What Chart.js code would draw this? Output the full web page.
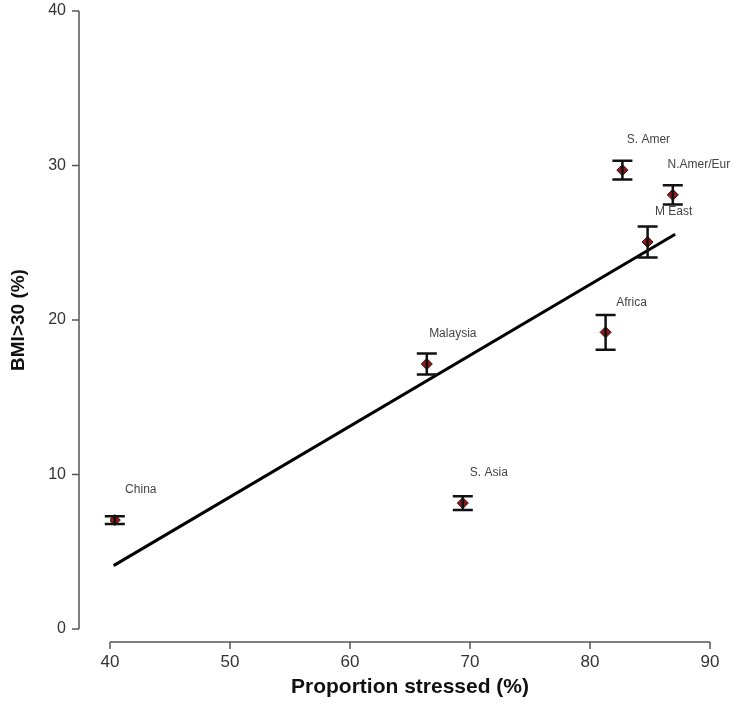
<!DOCTYPE html>
<html>
<head>
<meta charset="utf-8">
<script src="https://cdn.jsdelivr.net/npm/chart.js@4.4.1/dist/chart.umd.min.js"></script>
<style>
  html, body { margin: 0; padding: 0; background: #fff; }
  #wrap { width: 737px; height: 722px; }
</style>
</head>
<body>
<div id="wrap"><canvas id="grafico"></canvas></div>
<script>
// regions, x = proportion stressed (%), y = BMI>30 (%), err = half-length of error bar
const regioes = ['China', 'S. Asia', 'Malaysia', 'Africa', 'S. Amer', 'N.Amer/Eur', 'M East'];
const estressados = [40.4, 69.4, 66.4, 81.3, 82.7, 86.9, 84.8];
const obesidade = [7.05, 8.15, 17.15, 19.2, 29.7, 28.1, 25.05];
const erro = [0.25, 0.45, 0.68, 1.12, 0.6, 0.62, 1.0];

// fitted regression line end points
const retaX = [40.3, 87.1];
const retaY = [4.1, 25.55];

const xTicks = [40, 50, 60, 70, 80, 90];
const yTicks = [0, 10, 20, 30, 40];

// R-style detached axes, error bars and point labels
const extras = {
  id: 'extras',
  afterDatasetsDraw(chart) {
    const ctx = chart.ctx;
    const xs = chart.scales.x, ys = chart.scales.y;
    const area = chart.chartArea;
    ctx.save();

    // error bars
    ctx.strokeStyle = '#111';
    ctx.lineWidth = 2.5;
    estressados.forEach((v, i) => {
      const px = xs.getPixelForValue(v);
      const top = ys.getPixelForValue(obesidade[i] + erro[i]);
      const bot = ys.getPixelForValue(obesidade[i] - erro[i]);
      ctx.beginPath();
      ctx.moveTo(px, top); ctx.lineTo(px, bot);
      ctx.moveTo(px - 10, top); ctx.lineTo(px + 10, top);
      ctx.moveTo(px - 10, bot); ctx.lineTo(px + 10, bot);
      ctx.stroke();
    });

    // point labels
    ctx.fillStyle = '#444';
    ctx.font = '12px "Liberation Sans", Arial, sans-serif';
    ctx.textAlign = 'center';
    ctx.textBaseline = 'middle';
    regioes.forEach((r, i) => {
      const px = xs.getPixelForValue(estressados[i]);
      const py = ys.getPixelForValue(obesidade[i]);
      ctx.fillText(r, px + 26, py - 30);
    });

    // axes
    ctx.strokeStyle = '#555';
    ctx.lineWidth = 1.5;
    const axX = area.left - 31;
    ctx.beginPath();
    ctx.moveTo(axX, ys.getPixelForValue(yTicks[0]));
    ctx.lineTo(axX, ys.getPixelForValue(yTicks[yTicks.length - 1]));
    yTicks.forEach(t => {
      const py = ys.getPixelForValue(t);
      ctx.moveTo(axX, py); ctx.lineTo(axX - 7, py);
    });
    const axY = area.bottom + 13;
    ctx.moveTo(xs.getPixelForValue(xTicks[0]), axY);
    ctx.lineTo(xs.getPixelForValue(xTicks[xTicks.length - 1]), axY);
    xTicks.forEach(t => {
      const px = xs.getPixelForValue(t);
      ctx.moveTo(px, axY); ctx.lineTo(px, axY + 7);
    });
    ctx.stroke();
    ctx.restore();
  }
};

new Chart(document.getElementById('grafico'), {
  data: {
    datasets: [
      {
        type: 'line',
        data: retaX.map((x, i) => ({ x: x, y: retaY[i] })),
        borderColor: '#000',
        borderWidth: 3,
        pointRadius: 0,
        fill: false
      },
      {
        type: 'scatter',
        data: estressados.map((x, i) => ({ x: x, y: obesidade[i] })),
        pointStyle: 'rectRot',
        pointRadius: 5.5,
        backgroundColor: '#8b1a1a',
        borderColor: '#3a0808',
        borderWidth: 1
      }
    ]
  },
  options: {
    responsive: true,
    maintainAspectRatio: false,
    animation: false,
    layout: { padding: { top: 11, right: 27, left: 0, bottom: 0 } },
    plugins: { legend: { display: false }, tooltip: { enabled: false } },
    scales: {
      x: {
        type: 'linear',
        min: 40, max: 90,
        afterFit: s => { s.height = 93; },
        afterBuildTicks: s => { s.ticks = xTicks.map(v => ({ value: v })); },
        grid: { display: false, drawTicks: true, tickLength: 23 },
        border: { display: false },
        ticks: { padding: 0, color: '#333', font: { family: '"Liberation Sans", Arial', size: 17 } },
        title: {
          display: true,
          text: 'Proportion stressed (%)',
          color: '#111',
          font: { family: '"Liberation Sans", Arial', size: 21, weight: 'bold' },
          padding: { top: 0, bottom: 22 }
        }
      },
      y: {
        type: 'linear',
        min: 0, max: 40,
        afterFit: s => { s.width = 110; },
        afterBuildTicks: s => { s.ticks = yTicks.map(v => ({ value: v })); },
        grid: { display: false, drawTicks: true, tickLength: 44 },
        border: { display: false },
        ticks: { padding: 0, color: '#333', font: { family: '"Liberation Sans", Arial', size: 16 } },
        title: {
          display: true,
          text: 'BMI>30 (%)',
          color: '#111',
          font: { family: '"Liberation Sans", Arial', size: 19, weight: 'bold' },
          padding: { top: 7, bottom: 7 }
        }
      }
    }
  },
  plugins: [extras]
});
</script>
</body>
</html>
